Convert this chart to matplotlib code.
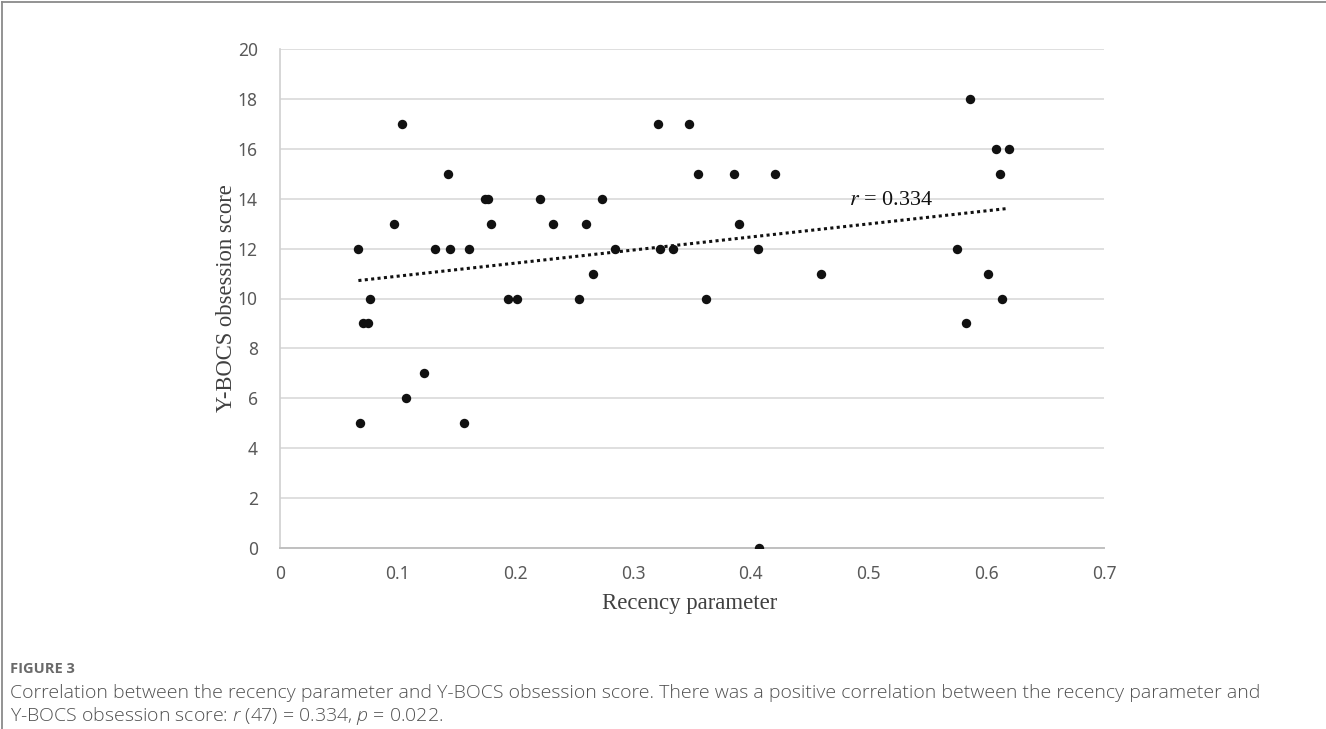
import matplotlib
matplotlib.use("Agg")
import matplotlib.pyplot as plt
import numpy as np

# ---- data ----
recency = [0.0666, 0.0683, 0.0705, 0.0745, 0.0765, 0.0966, 0.1037, 0.1068, 0.1226,
           0.1314, 0.1427, 0.1447, 0.1566, 0.1606, 0.1740, 0.1765, 0.1795, 0.1937,
           0.2016, 0.2206, 0.2317, 0.2538, 0.2597, 0.2659, 0.2733, 0.2849, 0.3214,
           0.3229, 0.3336, 0.3478, 0.3549, 0.3619, 0.3857, 0.3897, 0.4061, 0.4070,
           0.4206, 0.4599, 0.5749, 0.5828, 0.5862, 0.6012, 0.6083, 0.6120, 0.6137,
           0.6191]
ybocs = [12, 5, 9, 9, 10, 13, 17, 6, 7,
         12, 15, 12, 5, 12, 14, 14, 13, 10,
         10, 14, 13, 10, 13, 11, 14, 12, 17,
         12, 12, 17, 15, 10, 15, 13, 12, 0,
         15, 11, 12, 9, 18, 11, 16, 15, 10,
         16]
x_ticks = [0, 0.1, 0.2, 0.3, 0.4, 0.5, 0.6, 0.7]
x_tick_labels = ["0", "0.1", "0.2", "0.3", "0.4", "0.5", "0.6", "0.7"]
y_ticks = [0, 2, 4, 6, 8, 10, 12, 14, 16, 18, 20]
r_label = "0.334"
x_label = "Recency parameter"
y_label = "Y-BOCS obsession score"
fig_label = "FIGURE 3"
caption1 = "Correlation between the recency parameter and Y-BOCS obsession score. There was a positive correlation between the recency parameter and"
caption2 = "Y-BOCS obsession score: $\\mathit{r}$ (47) = 0.334, $\\mathit{p}$ = 0.022."

plt.rcParams['mathtext.fontset'] = 'custom'
plt.rcParams['mathtext.rm'] = 'Open Sans:light'
plt.rcParams['mathtext.it'] = 'Open Sans:italic:light'

W, H = 1326, 729
fig = plt.figure(figsize=(W / 100, H / 100), dpi=100)
fig.patch.set_facecolor("white")

def fx(px):
    return px / W

def fy(py):
    return 1 - py / H

ax = fig.add_axes([fx(280), fy(548), fx(1104) - fx(280), fy(49) - fy(548)])
ax.set_xlim(0, 0.7)
ax.set_ylim(0, 20)
ax.set_xticks(x_ticks)
ax.set_xticklabels(x_tick_labels)
ax.set_yticks(y_ticks)
ax.grid(axis='y', color='#d9d9d9', lw=1.2, zorder=0)
ax.set_axisbelow(True)
for s in ['top', 'right']:
    ax.spines[s].set_visible(False)
ax.spines['left'].set_color('#d0d0d0')
ax.spines['left'].set_linewidth(1.2)
ax.spines['bottom'].set_color('#c0c0c0')
ax.spines['bottom'].set_linewidth(1.4)
ax.tick_params(length=0, labelsize=12.5, labelcolor='#595959')
ax.tick_params(axis='y', pad=16)
ax.tick_params(axis='x', pad=12)
for lab in ax.get_xticklabels() + ax.get_yticklabels():
    lab.set_fontfamily('Noto Sans')

ax.scatter(recency, ybocs, s=46, color='#111111', zorder=3, linewidths=0)

# linear trend line
xs = np.array(recency)
ys = np.array(ybocs)
b1, b0 = np.polyfit(xs, ys, 1)
xl = np.array([xs.min(), xs.max()])
ax.plot(xl, b0 + b1 * xl, color='#111111', lw=2.2, linestyle=(0, (1, 1.1)), zorder=2)

ax.text(0.483, 13.75, "$r$ = " + r_label, fontsize=16, family='Liberation Serif',
        math_fontfamily='stix', color='#111111', va='baseline', ha='left')

fig.text(fx(226), fy(298), y_label, rotation=90, ha='center', va='center',
         fontsize=16.3, family='Liberation Serif', color='#404040')
fig.text(fx(690), fy(603), x_label, ha='center', va='center',
         fontsize=16.4, family='Liberation Serif', color='#404040')

# caption
fig.text(fx(10), fy(669), fig_label, ha='left', va='center', fontsize=10.5,
         family='Open Sans', weight='bold', color='#6a6a6a')
fig.text(fx(10), fy(693), caption1, ha='left', va='center', fontsize=14,
         family='Open Sans', weight='light', color='#505050')
fig.text(fx(10), fy(716), caption2, ha='left', va='center', fontsize=14,
         family='Open Sans', weight='light', color='#505050')

# frame
from matplotlib.lines import Line2D
fig.add_artist(Line2D([fx(2), fx(2)], [fy(2), 0], color='#8a8a8a', lw=1.3, transform=fig.transFigure))
fig.add_artist(Line2D([fx(2), 1], [fy(2), fy(2)], color='#8a8a8a', lw=1.3, transform=fig.transFigure))

fig.savefig("out.png", dpi=100, facecolor='white')
